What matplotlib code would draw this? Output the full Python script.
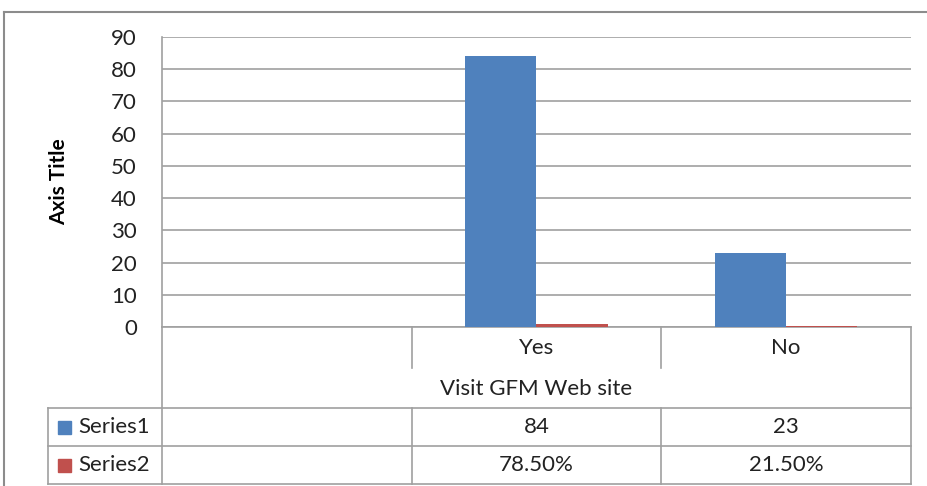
import matplotlib
matplotlib.use("Agg")
import matplotlib.pyplot as plt
from matplotlib.transforms import blended_transform_factory
from matplotlib.patches import Rectangle

plt.rcParams['font.family'] = ['Lato', 'DejaVu Sans']

categories = ["", "Yes", "No"]
series_names = ["Series1", "Series2"]
series1 = [None, 84, 23]
series2 = [None, 0.785, 0.215]
series1_labels = ["", "84", "23"]
series2_labels = ["", "78.50%", "21.50%"]
axis_title = "Axis Title"
x_title = "Visit GFM Web site"
yticks = [0, 10, 20, 30, 40, 50, 60, 70, 80, 90]

colors = ["#4F81BD", "#C0504D"]
grid_c = "#A0A0A0"
txt_c = "#222222"
FS = 16
W, H = 928, 486

fig = plt.figure(figsize=(W / 100, H / 100), dpi=100)
fig.patch.set_facecolor("white")

# overlay in pixel coordinates (for table and frame)
ov = fig.add_axes([0, 0, 1, 1], zorder=0)
ov.set_xlim(0, W)
ov.set_ylim(H, 0)
ov.axis("off")

L, R, T, B = 162, 911, 37, 327
ax = fig.add_axes([L / W, (H - B) / H, (R - L) / W, (B - T) / H], zorder=1)
ax.patch.set_alpha(0)
n = len(categories)
ax.set_xlim(-0.5, n - 0.5)
ax.set_ylim(0, 90)
bw = 0.285
xs = list(range(n))
for i, (vals, c) in enumerate(zip([series1, series2], colors)):
    px = [x + (i - 0.5) * bw for x, v in zip(xs, vals) if v is not None]
    pv = [v for v in vals if v is not None]
    ax.bar(px, pv, width=bw, color=c, zorder=3)
ax.set_yticks(yticks)
ax.set_yticklabels([str(t) for t in yticks], fontsize=FS, color=txt_c)
ax.tick_params(axis="y", length=0, pad=18)
ax.set_xticks([])
ax.yaxis.grid(True, color=grid_c, linewidth=1.2, zorder=0)
for s in ["top", "right", "bottom"]:
    ax.spines[s].set_visible(False)
ax.spines["left"].set_color(grid_c)
ax.spines["left"].set_linewidth(1.2)
ax.set_ylabel(axis_title, fontsize=15, fontweight="bold", labelpad=30)

# outer frame
ov.plot([4, W], [12, 12], color="#8C8C8C", lw=1.5)
ov.plot([4, 4], [12, H], color="#8C8C8C", lw=1.5)

# table
tr = blended_transform_factory(ax.transData, ov.transData)
lc = grid_c
lw = 1.2
row_cat = (327, 368)
rows = [408, 446, 484]
left_col = 48
ov.plot([-0.5, -0.5], [327, 484], transform=tr, color=lc, lw=lw)
ov.plot([n - 0.5, n - 0.5], [327, 484], transform=tr, color=lc, lw=lw)
for k in range(1, n):
    ov.plot([k - 0.5, k - 0.5], [row_cat[0], row_cat[1]], transform=tr, color=lc, lw=lw)
    ov.plot([k - 0.5, k - 0.5], [rows[0], rows[2]], transform=tr, color=lc, lw=lw)
ov.plot([left_col, left_col], [rows[0], rows[2]], color=lc, lw=lw)
xr = ax.transData.transform((n - 0.5, 0))[0]
for y in rows:
    ov.plot([left_col, xr], [y, y], color=lc, lw=lw)
ov.plot([L, xr], [327, 327], color=lc, lw=lw)

for k, cat in enumerate(categories):
    ov.text(k, 348, cat, transform=tr, ha="center", va="center", fontsize=FS, color=txt_c)
ov.text((n - 1) / 2, 389, x_title, transform=tr, ha="center", va="center", fontsize=FS, color=txt_c)
for r, (labels, name, c) in enumerate(zip([series1_labels, series2_labels], series_names, colors)):
    yc = (rows[r] + rows[r + 1]) / 2
    for k, lab in enumerate(labels):
        ov.text(k, yc, lab, transform=tr, ha="center", va="center", fontsize=FS, color=txt_c)
    ov.add_patch(Rectangle((58, yc - 6.5), 13, 13, color=c))
    ov.text(78, yc, name, ha="left", va="center", fontsize=FS, color=txt_c)

fig.savefig("out.png", dpi=100, facecolor="white")
